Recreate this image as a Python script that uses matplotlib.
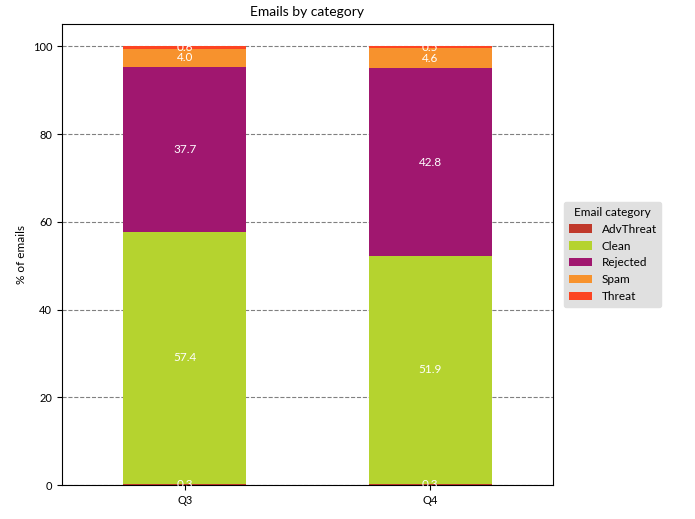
import matplotlib
matplotlib.use("Agg")
import matplotlib.pyplot as plt
import numpy as np

quarters = ["Q3", "Q4"]
categories = ["AdvThreat", "Clean", "Rejected", "Spam", "Threat"]
values = {
    "AdvThreat": [0.3, 0.3],
    "Clean": [57.4, 51.9],
    "Rejected": [37.7, 42.8],
    "Spam": [4.0, 4.6],
    "Threat": [0.6, 0.5],
}
colors = {"AdvThreat": "#c0392b", "Clean": "#b5d32f", "Rejected": "#a0176f",
          "Spam": "#f7922d", "Threat": "#fc4422"}

plt.rcParams["font.family"] = "Lato"
fig = plt.figure(figsize=(6.95, 5.19), dpi=100)
ax = fig.add_axes([62/695, 1-485/519, 491/695, 461/519])
x = np.arange(len(quarters))
bottom = np.zeros(len(quarters))
for c in categories:
    v = np.array(values[c])
    ax.bar(x, v, 0.5, bottom=bottom, color=colors[c], label=c, zorder=2)
    for xi, vi, bi in zip(x, v, bottom):
        ax.text(xi, bi + vi/2, f"{vi:.1f}", ha="center", va="center", color="white", fontsize=8.5, zorder=3)
    bottom += v
ax.set_xlim(-0.5, 1.5)
ax.set_xticks(x)
ax.set_xticklabels(quarters, fontsize=8)
ax.set_yticks(range(0, 101, 20))
ax.tick_params(axis="y", labelsize=8)
ax.yaxis.grid(True, linestyle="--", color="gray", zorder=0)
ax.set_axisbelow(True)
ax.set_ylabel("% of emails", fontsize=8.5)
ax.set_title("Emails by category", fontsize=10)
leg = ax.legend(title="Email category", loc="center left", bbox_to_anchor=(1.01, 0.5),
                fontsize=8.5, title_fontsize=8.5, facecolor="#e0e0e0", edgecolor="#e0e0e0", framealpha=1)
fig.savefig("out.png", dpi=100)
